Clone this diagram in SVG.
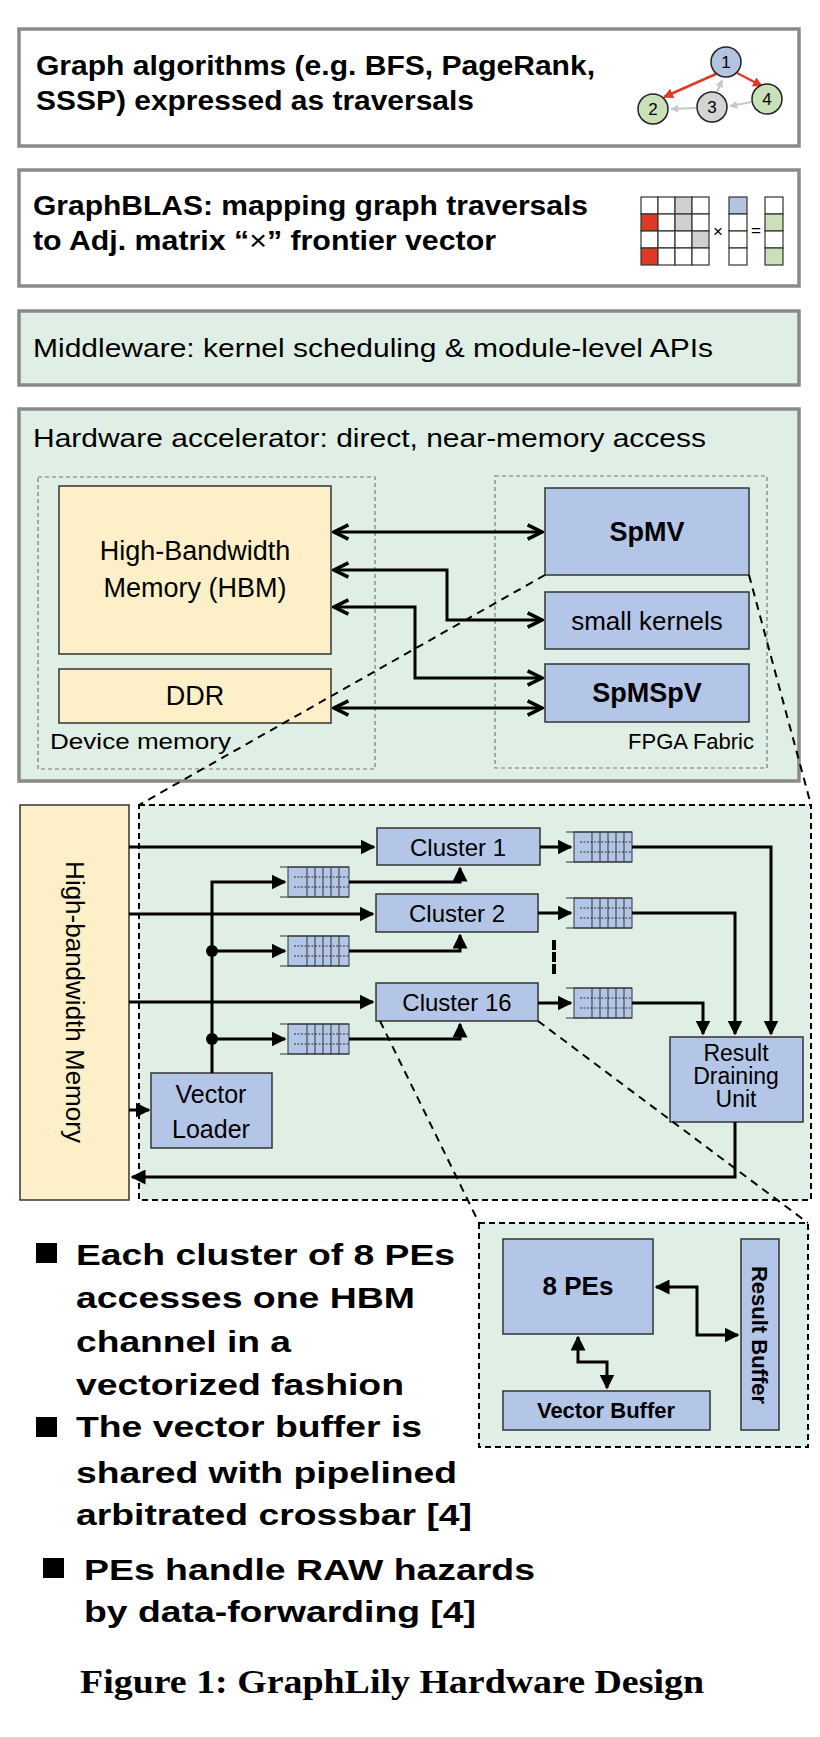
<svg xmlns="http://www.w3.org/2000/svg" width="820" height="1737" viewBox="0 0 820 1737">
<defs>
<marker id="ah" viewBox="0 0 10 10" refX="9" refY="5" markerWidth="5" markerHeight="5" orient="auto-start-reverse"><path d="M0,0 L10,5 L0,10 z" fill="#000"/></marker>
<marker id="ao" viewBox="0 0 10 10" refX="9" refY="5" markerWidth="6" markerHeight="6" orient="auto-start-reverse"><path d="M1,1 L9,5 L1,9" fill="none" stroke="#000" stroke-width="2"/></marker>
<marker id="ar" viewBox="0 0 10 10" refX="9" refY="5" markerWidth="4" markerHeight="4" orient="auto"><path d="M0,0 L10,5 L0,10 z" fill="#e03a24"/></marker>
<marker id="ag" viewBox="0 0 10 10" refX="9" refY="5" markerWidth="4" markerHeight="4" orient="auto"><path d="M0,0 L10,5 L0,10 z" fill="#c8c8c8"/></marker>
</defs>
<style>
.layer{stroke:#8a8a8a;stroke-width:3.5}
.t{font-family:"Liberation Sans",Arial,sans-serif;fill:#000}
.b{font-weight:bold}
.mem{fill:#fdf0c8;stroke:#333;stroke-width:1.5}
.blu{fill:#b4c6e7;stroke:#333;stroke-width:1.5}
.dash{fill:none;stroke:#777;stroke-width:1.2;stroke-dasharray:4,3}
.zoom{fill:none;stroke:#000;stroke-width:2;stroke-dasharray:8,6}
.ln{fill:none;stroke:#000;stroke-width:3}
.cell{fill:#fff;stroke:#333;stroke-width:1.2}
.red{fill:#e03a24}
.gry{fill:#d0d0d0}
.bl{fill:#b4c3e0}
.gr{fill:#c9e0b8}
.fifo{fill:#b4c6e7;stroke:#333;stroke-width:1}
</style>
<rect width="820" height="1737" fill="#fff"/>

<g id="layer-graph">
<rect class="layer" x="19" y="29" width="780" height="117" fill="#fff"/>
<text class="t b" x="36" y="75" font-size="27" textLength="559" lengthAdjust="spacingAndGlyphs">Graph algorithms (e.g. BFS, PageRank,</text>
<text class="t b" x="36" y="110" font-size="27" textLength="438" lengthAdjust="spacingAndGlyphs">SSSP) expressed as traversals</text>
<line x1="716" y1="74" x2="664" y2="97" stroke="#e03a24" stroke-width="2.5" marker-end="url(#ar)"/>
<line x1="737" y1="73" x2="762" y2="86" stroke="#e03a24" stroke-width="2.5" marker-end="url(#ar)"/>
<line x1="717" y1="92" x2="722" y2="80" stroke="#c8c8c8" stroke-width="2" marker-end="url(#ag)"/>
<line x1="696" y1="108" x2="671" y2="109" stroke="#c8c8c8" stroke-width="2" marker-end="url(#ag)"/>
<line x1="752" y1="102" x2="730" y2="106" stroke="#c8c8c8" stroke-width="2" marker-end="url(#ag)"/>
<circle cx="726" cy="62" r="15" fill="#b4c3e0" stroke="#222" stroke-width="1.5"/>
<circle cx="653" cy="109" r="15" fill="#c9e0b8" stroke="#222" stroke-width="1.5"/>
<circle cx="712" cy="107" r="15" fill="#d4d4d4" stroke="#222" stroke-width="1.5"/>
<circle cx="767" cy="99" r="15" fill="#c9e0b8" stroke="#222" stroke-width="1.5"/>
<g class="t" font-size="17" text-anchor="middle">
<text x="726" y="68">1</text><text x="653" y="115">2</text><text x="712" y="113">3</text><text x="767" y="105">4</text>
</g>
</g>

<g id="layer-graphblas">
<rect class="layer" x="19" y="170" width="780" height="116" fill="#fff"/>
<text class="t b" x="33" y="215" font-size="27" textLength="555" lengthAdjust="spacingAndGlyphs">GraphBLAS: mapping graph traversals</text>
<text class="t b" x="33" y="250" font-size="27" textLength="463" lengthAdjust="spacingAndGlyphs">to Adj. matrix “<tspan font-weight="normal">×</tspan>” frontier vector</text>
<g>
<rect class="cell" x="641" y="197" width="17" height="17"/><rect class="cell" x="658" y="197" width="17" height="17"/><rect class="cell gry" x="675" y="197" width="17" height="17"/><rect class="cell" x="692" y="197" width="17" height="17"/>
<rect class="cell red" x="641" y="214" width="17" height="17"/><rect class="cell" x="658" y="214" width="17" height="17"/><rect class="cell gry" x="675" y="214" width="17" height="17"/><rect class="cell" x="692" y="214" width="17" height="17"/>
<rect class="cell" x="641" y="231" width="17" height="17"/><rect class="cell" x="658" y="231" width="17" height="17"/><rect class="cell" x="675" y="231" width="17" height="17"/><rect class="cell gry" x="692" y="231" width="17" height="17"/>
<rect class="cell red" x="641" y="248" width="17" height="17"/><rect class="cell" x="658" y="248" width="17" height="17"/><rect class="cell" x="675" y="248" width="17" height="17"/><rect class="cell" x="692" y="248" width="17" height="17"/>
<text class="t" x="718" y="237" font-size="17" text-anchor="middle">×</text>
<rect class="cell bl" x="729" y="197" width="18" height="17"/><rect class="cell" x="729" y="214" width="18" height="17"/><rect class="cell" x="729" y="231" width="18" height="17"/><rect class="cell" x="729" y="248" width="18" height="17"/>
<text class="t" x="756" y="236" font-size="17" text-anchor="middle">=</text>
<rect class="cell" x="765" y="197" width="18" height="17"/><rect class="cell gr" x="765" y="214" width="18" height="17"/><rect class="cell" x="765" y="231" width="18" height="17"/><rect class="cell gr" x="765" y="248" width="18" height="17"/>
</g>
</g>

<g id="layer-middleware">
<rect class="layer" x="19" y="311" width="780" height="74" fill="#e0efe6"/>
<text class="t" x="33" y="357" font-size="26" textLength="680" lengthAdjust="spacingAndGlyphs">Middleware: kernel scheduling &amp; module-level APIs</text>
</g>

<g id="layer-hw">
<rect class="layer" x="19" y="409" width="780" height="372" fill="#e0efe6"/>
<text class="t" x="33" y="447" font-size="26" textLength="673" lengthAdjust="spacingAndGlyphs">Hardware accelerator: direct, near-memory access</text>
<rect class="dash" x="38" y="477" width="337" height="292"/>
<rect class="dash" x="495" y="476" width="272" height="292"/>
<text class="t" x="50" y="749" font-size="22" textLength="181" lengthAdjust="spacingAndGlyphs">Device memory</text>
<text class="t" x="754" y="749" font-size="22" text-anchor="end">FPGA Fabric</text>
</g>
<g id="hbm"><rect class="mem" x="59" y="486" width="272" height="168"/>
<text class="t" x="195" y="560" font-size="27" text-anchor="middle">High-Bandwidth</text>
<text class="t" x="195" y="597" font-size="27" text-anchor="middle">Memory (HBM)</text></g>
<g id="ddr"><rect class="mem" x="59" y="669" width="272" height="54"/>
<text class="t" x="195" y="705" font-size="27" text-anchor="middle">DDR</text></g>
<g id="spmv"><rect class="blu" x="545" y="488" width="204" height="87"/>
<text class="t b" x="647" y="541" font-size="27" text-anchor="middle">SpMV</text></g>
<g id="small"><rect class="blu" x="545" y="592" width="204" height="57"/>
<text class="t" x="647" y="630" font-size="26" text-anchor="middle">small kernels</text></g>
<g id="spmspv"><rect class="blu" x="545" y="664" width="204" height="58"/>
<text class="t b" x="647" y="702" font-size="27" text-anchor="middle">SpMSpV</text></g>

<g id="detail">
<rect x="139" y="805" width="672" height="395" fill="#e0efe6" stroke="#000" stroke-width="2" stroke-dasharray="6,4"/>
</g>
<g id="hbm2"><rect class="mem" x="20" y="805" width="109" height="395"/>
<text class="t" transform="translate(66,1002) rotate(90)" font-size="26" text-anchor="middle">High-bandwidth Memory</text></g>
<g id="cluster1"><rect class="blu" x="377" y="828" width="163" height="37"/><text class="t" x="458" y="856" font-size="24" text-anchor="middle">Cluster 1</text></g>
<g id="cluster2"><rect class="blu" x="376" y="894" width="162" height="38"/><text class="t" x="457" y="922" font-size="24" text-anchor="middle">Cluster 2</text></g>
<g id="cluster16"><rect class="blu" x="376" y="983" width="162" height="38"/><text class="t" x="457" y="1011" font-size="24" text-anchor="middle">Cluster 16</text></g>
<g id="vloader"><rect class="blu" x="151" y="1073" width="121" height="75"/>
<text class="t" x="211" y="1103" font-size="25" text-anchor="middle">Vector</text><text class="t" x="211" y="1138" font-size="25" text-anchor="middle">Loader</text></g>
<g id="rdu"><rect class="blu" x="670" y="1037" width="133" height="85"/>
<text class="t" x="736" y="1061" font-size="23" text-anchor="middle">Result</text>
<text class="t" x="736" y="1084" font-size="23" text-anchor="middle">Draining</text>
<text class="t" x="736" y="1107" font-size="23" text-anchor="middle">Unit</text></g>
<g id="fifos">
<g id="fifo-l1" transform="translate(280,867)"><rect class="fifo" x="8" width="61" height="30"/><line x1="0" y1="0" x2="69" y2="0" stroke="#333"/><line x1="0" y1="30" x2="69" y2="30" stroke="#333"/><path d="M27,0V30M35,0V30M43,0V30M51,0V30M59,0V30" stroke="#333"/><path d="M14,10H69M14,20H69" stroke="#333" stroke-dasharray="2,1.5"/></g>
<g id="fifo-l2" transform="translate(280,936)"><rect class="fifo" x="8" width="61" height="30"/><line x1="0" y1="0" x2="69" y2="0" stroke="#333"/><line x1="0" y1="30" x2="69" y2="30" stroke="#333"/><path d="M27,0V30M35,0V30M43,0V30M51,0V30M59,0V30" stroke="#333"/><path d="M14,10H69M14,20H69" stroke="#333" stroke-dasharray="2,1.5"/></g>
<g id="fifo-l3" transform="translate(280,1024)"><rect class="fifo" x="8" width="61" height="30"/><line x1="0" y1="0" x2="69" y2="0" stroke="#333"/><line x1="0" y1="30" x2="69" y2="30" stroke="#333"/><path d="M27,0V30M35,0V30M43,0V30M51,0V30M59,0V30" stroke="#333"/><path d="M14,10H69M14,20H69" stroke="#333" stroke-dasharray="2,1.5"/></g>
<g id="fifo-r1" transform="translate(566,832)"><rect class="fifo" x="8" width="58" height="30"/><line x1="0" y1="0" x2="66" y2="0" stroke="#333"/><line x1="0" y1="30" x2="66" y2="30" stroke="#333"/><path d="M26,0V30M34,0V30M42,0V30M50,0V30M58,0V30" stroke="#333"/><path d="M14,10H66M14,20H66" stroke="#333" stroke-dasharray="2,1.5"/></g>
<g id="fifo-r2" transform="translate(566,898)"><rect class="fifo" x="8" width="58" height="30"/><line x1="0" y1="0" x2="66" y2="0" stroke="#333"/><line x1="0" y1="30" x2="66" y2="30" stroke="#333"/><path d="M26,0V30M34,0V30M42,0V30M50,0V30M58,0V30" stroke="#333"/><path d="M14,10H66M14,20H66" stroke="#333" stroke-dasharray="2,1.5"/></g>
<g id="fifo-r3" transform="translate(566,988)"><rect class="fifo" x="8" width="58" height="30"/><line x1="0" y1="0" x2="66" y2="0" stroke="#333"/><line x1="0" y1="30" x2="66" y2="30" stroke="#333"/><path d="M26,0V30M34,0V30M42,0V30M50,0V30M58,0V30" stroke="#333"/><path d="M14,10H66M14,20H66" stroke="#333" stroke-dasharray="2,1.5"/></g>
</g>

<g id="pe-detail">
<rect x="479" y="1223" width="329" height="224" fill="#e0efe6" stroke="#000" stroke-width="2" stroke-dasharray="6,4"/>
</g>
<g id="pes"><rect class="blu" x="503" y="1239" width="150" height="95"/><text class="t b" x="578" y="1295" font-size="26" text-anchor="middle">8 PEs</text></g>
<g id="vbuf"><rect class="blu" x="503" y="1391" width="207" height="39"/><text class="t b" x="606" y="1418" font-size="22" text-anchor="middle">Vector Buffer</text></g>
<g id="rbuf"><rect class="blu" x="741" y="1239" width="38" height="191"/><text class="t b" transform="translate(752,1335) rotate(90)" font-size="22" text-anchor="middle">Result Buffer</text></g>

<g id="connectors">
<line class="ln" x1="334" y1="532" x2="542" y2="532" marker-start="url(#ao)" marker-end="url(#ao)"/>
<polyline class="ln" points="334,570 447,570 447,620 542,620" marker-start="url(#ao)" marker-end="url(#ao)"/>
<polyline class="ln" points="334,607 415,607 415,678 542,678" marker-start="url(#ao)" marker-end="url(#ao)"/>
<line class="ln" x1="334" y1="708" x2="542" y2="708" marker-start="url(#ao)" marker-end="url(#ao)"/>
<line class="zoom" x1="545" y1="575" x2="139" y2="805"/>
<line class="zoom" x1="749" y1="575" x2="811" y2="805"/>
<line class="zoom" x1="380" y1="1021" x2="479" y2="1223"/>
<line class="zoom" x1="538" y1="1021" x2="808" y2="1223"/>
<line class="ln" x1="129" y1="847" x2="374" y2="847" marker-end="url(#ah)"/>
<line class="ln" x1="129" y1="914" x2="373" y2="914" marker-end="url(#ah)"/>
<line class="ln" x1="129" y1="1002" x2="373" y2="1002" marker-end="url(#ah)"/>
<polyline class="ln" points="212,1073 212,882 285,882" marker-end="url(#ah)"/>
<line class="ln" x1="212" y1="951" x2="285" y2="951" marker-end="url(#ah)"/>
<line class="ln" x1="212" y1="1039" x2="285" y2="1039" marker-end="url(#ah)"/>
<circle cx="212" cy="951" r="6"/><circle cx="212" cy="1039" r="6"/>
<polyline class="ln" points="349,882 460,882 460,868" marker-end="url(#ah)"/>
<polyline class="ln" points="349,951 460,951 460,935" marker-end="url(#ah)"/>
<polyline class="ln" points="349,1039 460,1039 460,1024" marker-end="url(#ah)"/>
<line class="ln" x1="540" y1="847" x2="571" y2="847" marker-end="url(#ah)"/>
<line class="ln" x1="538" y1="913" x2="571" y2="913" marker-end="url(#ah)"/>
<line class="ln" x1="538" y1="1003" x2="571" y2="1003" marker-end="url(#ah)"/>
<polyline class="ln" points="632,847 771,847 771,1034" marker-end="url(#ah)"/>
<polyline class="ln" points="632,913 735,913 735,1034" marker-end="url(#ah)"/>
<polyline class="ln" points="632,1003 703,1003 703,1034" marker-end="url(#ah)"/>
<path d="M554,940V950M554,952V962M554,964V974" stroke="#000" stroke-width="4"/>
<polyline class="ln" points="735,1122 735,1177 132,1177" marker-end="url(#ah)"/>
<line class="ln" x1="129" y1="1110" x2="149" y2="1110" marker-end="url(#ah)"/>
<polyline class="ln" points="656,1287 697,1287 697,1335 738,1335" stroke-width="2.5" marker-start="url(#ah)" marker-end="url(#ah)"/>
<polyline class="ln" points="578,1337 578,1362 607,1362 607,1388" stroke-width="2.5" marker-start="url(#ah)" marker-end="url(#ah)"/>
</g>

<g id="bullets" class="t b" font-size="29">
<rect x="36" y="1243" width="21" height="20"/>
<text x="76" y="1265" textLength="379" lengthAdjust="spacingAndGlyphs">Each cluster of 8 PEs</text>
<text x="76" y="1308" textLength="339" lengthAdjust="spacingAndGlyphs">accesses one HBM</text>
<text x="76" y="1352" textLength="215" lengthAdjust="spacingAndGlyphs">channel in a</text>
<text x="76" y="1395" textLength="328" lengthAdjust="spacingAndGlyphs">vectorized fashion</text>
<rect x="36" y="1417" width="21" height="20"/>
<text x="76" y="1437" textLength="346" lengthAdjust="spacingAndGlyphs">The vector buffer is</text>
<text x="76" y="1483" textLength="381" lengthAdjust="spacingAndGlyphs">shared with pipelined</text>
<text x="76" y="1525" textLength="396" lengthAdjust="spacingAndGlyphs">arbitrated crossbar [4]</text>
<rect x="43" y="1558" width="21" height="20"/>
<text x="84" y="1580" textLength="451" lengthAdjust="spacingAndGlyphs">PEs handle RAW hazards</text>
<text x="84" y="1622" textLength="392" lengthAdjust="spacingAndGlyphs">by data-forwarding [4]</text>
</g>
<text class="b" x="80" y="1693" font-family="Liberation Serif,'Times New Roman',serif" font-size="34" textLength="624" lengthAdjust="spacingAndGlyphs">Figure 1: GraphLily Hardware Design</text>
</svg>
